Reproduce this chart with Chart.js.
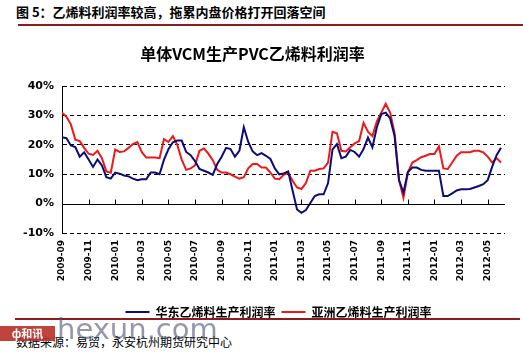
<!DOCTYPE html>
<html>
<head>
<meta charset="utf-8">
<script src="https://cdn.jsdelivr.net/npm/chart.js@4"></script>
<style>
  body { margin: 0; background: #fff; width: 523px; height: 352px; overflow: hidden; position: relative; font-family: "Noto Sans CJK SC", sans-serif; }
  #head { position: absolute; left: 16px; top: 2px; font-size: 13px; font-weight: bold; color: #000; white-space: nowrap; }
  .rule { position: absolute; height: 2px; background: #8b1c1c; }
  #src { position: absolute; left: 16px; top: 333px; font-size: 12px; color: #000; white-space: nowrap; }
  #logo { position: absolute; left: 0; top: 326px; width: 55px; height: 15px; background: #b8302a; color: #fff; font-size: 11px; font-weight: bold; line-height: 15px; text-align: center; opacity: 0.9; }
  #hexun { position: absolute; left: 57px; top: 312px; font-family: "DejaVu Sans", sans-serif; font-size: 29px; color: #4a5470; opacity: 0.6; }
  #wrap { position: absolute; left: 0; top: 34px; width: 523px; height: 294px; }
</style>
</head>
<body>
<div id="head">图 5：乙烯料利润率较高，拖累内盘价格打开回落空间</div>
<div class="rule" style="left:18px; top:24px; width:505px;"></div>
<div id="wrap"><canvas id="chart"></canvas></div>
<div class="rule" style="left:15px; top:318px; width:505px;"></div>
<div id="src">数据来源：易贸，永安杭州期货研究中心</div>
<div id="logo">ф和讯</div>
<div id="hexun">hexun.com</div>
<script>
// Axis labels, one every two months starting at 2009-09
const tickLabels = ['2009-09', '2009-11', '2010-01', '2010-03', '2010-05', '2010-07', '2010-09',
    '2010-11', '2011-01', '2011-03', '2011-05', '2011-07', '2011-09', '2011-11',
    '2012-01', '2012-03', '2012-05'];

// Profit margin (%) sampled on the 1st, 11th and 21st of each month, 2009-09-01 .. 2012-06-01
const huadong = [
    22.6, 22.3, 19.8, 19.3, 16, 17.5, 15, 12.5, 15, 13, 9, 8.5,
    10.6, 10.2, 9.6, 9.3, 8.5, 8, 8.3, 8.3, 10.6, 10.6, 10, 15,
    18.5, 20.9, 21.5, 21.5, 17.6, 16.5, 14.5, 11.8, 11.2, 10.6, 9.8, 13.5,
    16, 19, 18.6, 16, 18, 26, 21, 17.8, 16.5, 17.2, 16.3, 15.2,
    12, 10, 10.3, 11, 4.5, -2, -3.1, -2.2, 0.2, 2.6, 3.2, 3.2,
    7, 18.5, 20.3, 15.5, 16, 18.3, 17.6, 16, 18.6, 22.5, 19.2, 26,
    30.5, 31, 29, 23, 8, 3.8, 10.8, 12.3, 12.3, 11.5, 11.2, 11.2,
    11.2, 11.2, 2.6, 2.6, 3.5, 4.5, 4.9, 4.9, 5, 5.5, 6, 6.6,
    8, 12.5, 16.5, 19
];
const asia = [
    31, 29.6, 27, 21.8, 21.3, 19, 17, 16.6, 18, 15.5, 11, 10.5,
    18.4, 17.6, 17.8, 19, 20.3, 21, 17.5, 15.7, 15.7, 15.7, 15.5, 22,
    21, 23, 20, 15, 11.5, 12, 13, 18, 18.8, 17, 14.8, 11.5,
    10.6, 10.6, 10, 9.2, 8.5, 9, 12, 13.5, 13.5, 12.3, 12.3, 10.6,
    8.5, 8.3, 9.8, 10.5, 7.8, 5.5, 5, 7, 11.2, 11.2, 11.8, 12,
    14, 24.5, 24, 18, 17.8, 19.2, 20.5, 21.3, 27.5, 24.5, 23, 28,
    31, 34, 31, 24, 8, 2, 10.6, 14, 14.8, 15.8, 16.3, 16.9,
    16.9, 19.5, 12, 11.8, 14, 16.3, 17.5, 17.5, 17.5, 18, 18, 17.5,
    16, 14, 15.5, 14
];

// sample dates as months since 2009-09 (1st, 11th, 21st of each month)
const sampleMonths = [];
for (let m = 0; m < 33; m++) {
    sampleMonths.push(m, m + 1 / 3, m + 2 / 3);
}
sampleMonths.push(33);

const toPoints = vals => vals.map((v, i) => ({ x: sampleMonths[i], y: v }));

// zero line and small tick marks on it
const zeroAxis = {
    id: 'zeroAxis',
    afterDatasetsDraw(chart) {
        const { ctx, chartArea, scales: { x, y } } = chart;
        const y0 = Math.round(y.getPixelForValue(0)) + 0.5;
        ctx.save();
        ctx.strokeStyle = '#000';
        ctx.lineWidth = 1;
        ctx.beginPath();
        ctx.moveTo(chartArea.left, y0);
        ctx.lineTo(chartArea.right, y0);
        x.ticks.forEach(t => {
            const px = Math.round(x.getPixelForValue(t.value)) + 0.5;
            ctx.moveTo(px, y0);
            ctx.lineTo(px, y0 - 5);
        });
        ctx.stroke();
        ctx.restore();
    }
};

// the legend sits a bit right of the canvas centre in the original
const legendShift = {
    id: 'legendShift',
    afterLayout(chart) {
        chart.legend.left += 26;
        chart.legend.right += 26;
    }
};

const ctx = document.getElementById('chart').getContext('2d');
new Chart(ctx, {
    type: 'line',
    data: {
        datasets: [{
            label: '华东乙烯料生产利润率',
            data: toPoints(huadong),
            borderColor: '#0c0c78',
            backgroundColor: '#0c0c78',
            borderWidth: 2,
            pointRadius: 0,
            tension: 0
        }, {
            label: '亚洲乙烯料生产利润率',
            data: toPoints(asia),
            borderColor: '#ee1818',
            backgroundColor: '#ee1818',
            borderWidth: 2,
            pointRadius: 0,
            tension: 0
        }]
    },
    options: {
        responsive: true,
        maintainAspectRatio: false,
        animation: false,
        layout: { padding: { left: 0, right: 18, top: 0, bottom: 0 } },
        plugins: {
            title: {
                display: true,
                text: '单体VCM生产PVC乙烯料利润率',
                color: '#000',
                font: { family: '"Noto Sans CJK SC"', size: 16, weight: 'bold' },
                padding: { top: 10, bottom: 23 }
            },
            legend: {
                position: 'bottom',
                labels: {
                    usePointStyle: true,
                    pointStyle: 'line',
                    pointStyleWidth: 24,
                    color: '#000',
                    padding: 6,
                    font: { family: '"Noto Sans CJK SC"', size: 12, weight: 'bold' }
                }
            },
            tooltip: { enabled: false }
        },
        scales: {
            x: {
                type: 'linear',
                min: 0,
                max: 33.3,
                afterFit: s => { s.height = 67; },
                grid: { display: false, drawTicks: false },
                border: { display: false },
                ticks: {
                    stepSize: 2,
                    includeBounds: false,
                    autoSkip: false,
                    minRotation: 90,
                    maxRotation: 90,
                    padding: 7,
                    color: '#000',
                    font: { family: '"DejaVu Sans"', size: 9, weight: 'bold' },
                    callback: v => tickLabels[v / 2] || ''
                }
            },
            y: {
                min: -10,
                max: 40,
                afterFit: s => { s.width = 62; },
                grid: {
                    drawTicks: false,
                    color: c => c.tick && c.tick.value === 0 ? 'rgba(0,0,0,0)' : '#000',
                    lineWidth: 1
                },
                border: { display: true, color: '#000', width: 1, dash: [4, 3] },
                ticks: {
                    stepSize: 10,
                    padding: 8,
                    color: '#000',
                    font: { family: '"DejaVu Sans"', size: 11, weight: 'bold' },
                    callback: v => v + '%'
                }
            }
        }
    },
    plugins: [zeroAxis, legendShift]
});
</script>
</body>
</html>
